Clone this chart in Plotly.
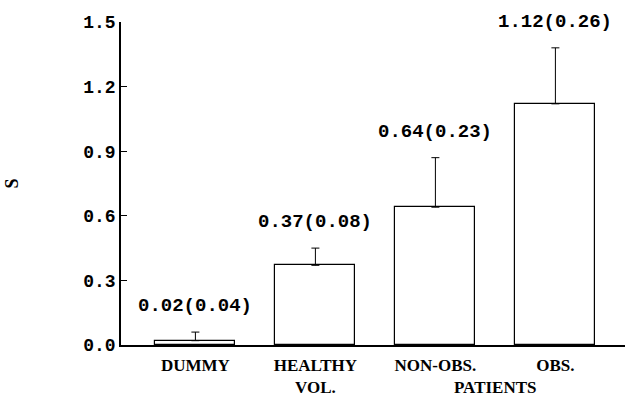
import plotly.graph_objects as go

groups = ["DUMMY", "HEALTHY<br>VOL.", "NON-OBS.", "OBS."]
means = [0.02, 0.37, 0.64, 1.12]
sds = [0.04, 0.08, 0.23, 0.26]
y_ticks = [0.0, 0.3, 0.6, 0.9, 1.2, 1.5]
y_tick_text = ["0.0", "0.3", "0.6", "0.9", "1.2", "1.5"]

x_pos = list(range(len(groups)))

fig = go.Figure()
fig.add_trace(go.Bar(
    x=x_pos,
    y=means,
    width=0.667,
    marker=dict(color="white", line=dict(color="black", width=1.2)),
    error_y=dict(type="data", array=sds, arrayminus=[0] * len(sds),
                 symmetric=False, color="black", thickness=1, width=4),
    showlegend=False,
))

for x, m, s in zip(x_pos, means, sds):
    fig.add_annotation(
        x=x, y=m + s, text=f"{m:.2f}({s:.2f})", showarrow=False,
        yanchor="middle", yshift=26,
        font=dict(family="Liberation Mono", size=19, color="black", weight="bold"),
    )

fig.add_annotation(
    x=2.5, y=0, yref="y", text="PATIENTS", showarrow=False,
    yanchor="middle", yshift=-42,
    font=dict(family="Liberation Serif", size=17, color="black", weight="bold"),
)

fig.update_layout(
    width=627, height=397,
    margin=dict(l=121, r=2, t=22, b=52),
    plot_bgcolor="white", paper_bgcolor="white",
    bargap=0,
)
fig.update_xaxes(
    range=[-0.62, 3.58],
    tickvals=x_pos, ticktext=groups,
    showline=True, linecolor="black", linewidth=1.6,
    ticks="", showgrid=False, zeroline=False, ticklabelstandoff=4,
    automargin=False,
    tickfont=dict(family="Liberation Serif", size=17, color="black", weight="bold"),
)
fig.update_yaxes(
    range=[0, 1.5],
    tickvals=y_ticks, ticktext=y_tick_text,
    showline=True, linecolor="black", linewidth=1.6,
    ticks="inside", ticklen=6, tickcolor="black", tickwidth=1,
    showgrid=False, zeroline=False, automargin=False,
    tickfont=dict(family="Liberation Mono", size=18, color="black", weight="bold"),
    title=dict(text="S", standoff=60,
               font=dict(family="Liberation Serif", size=18, color="black", weight="bold")),
)

fig.write_html("out.html")
